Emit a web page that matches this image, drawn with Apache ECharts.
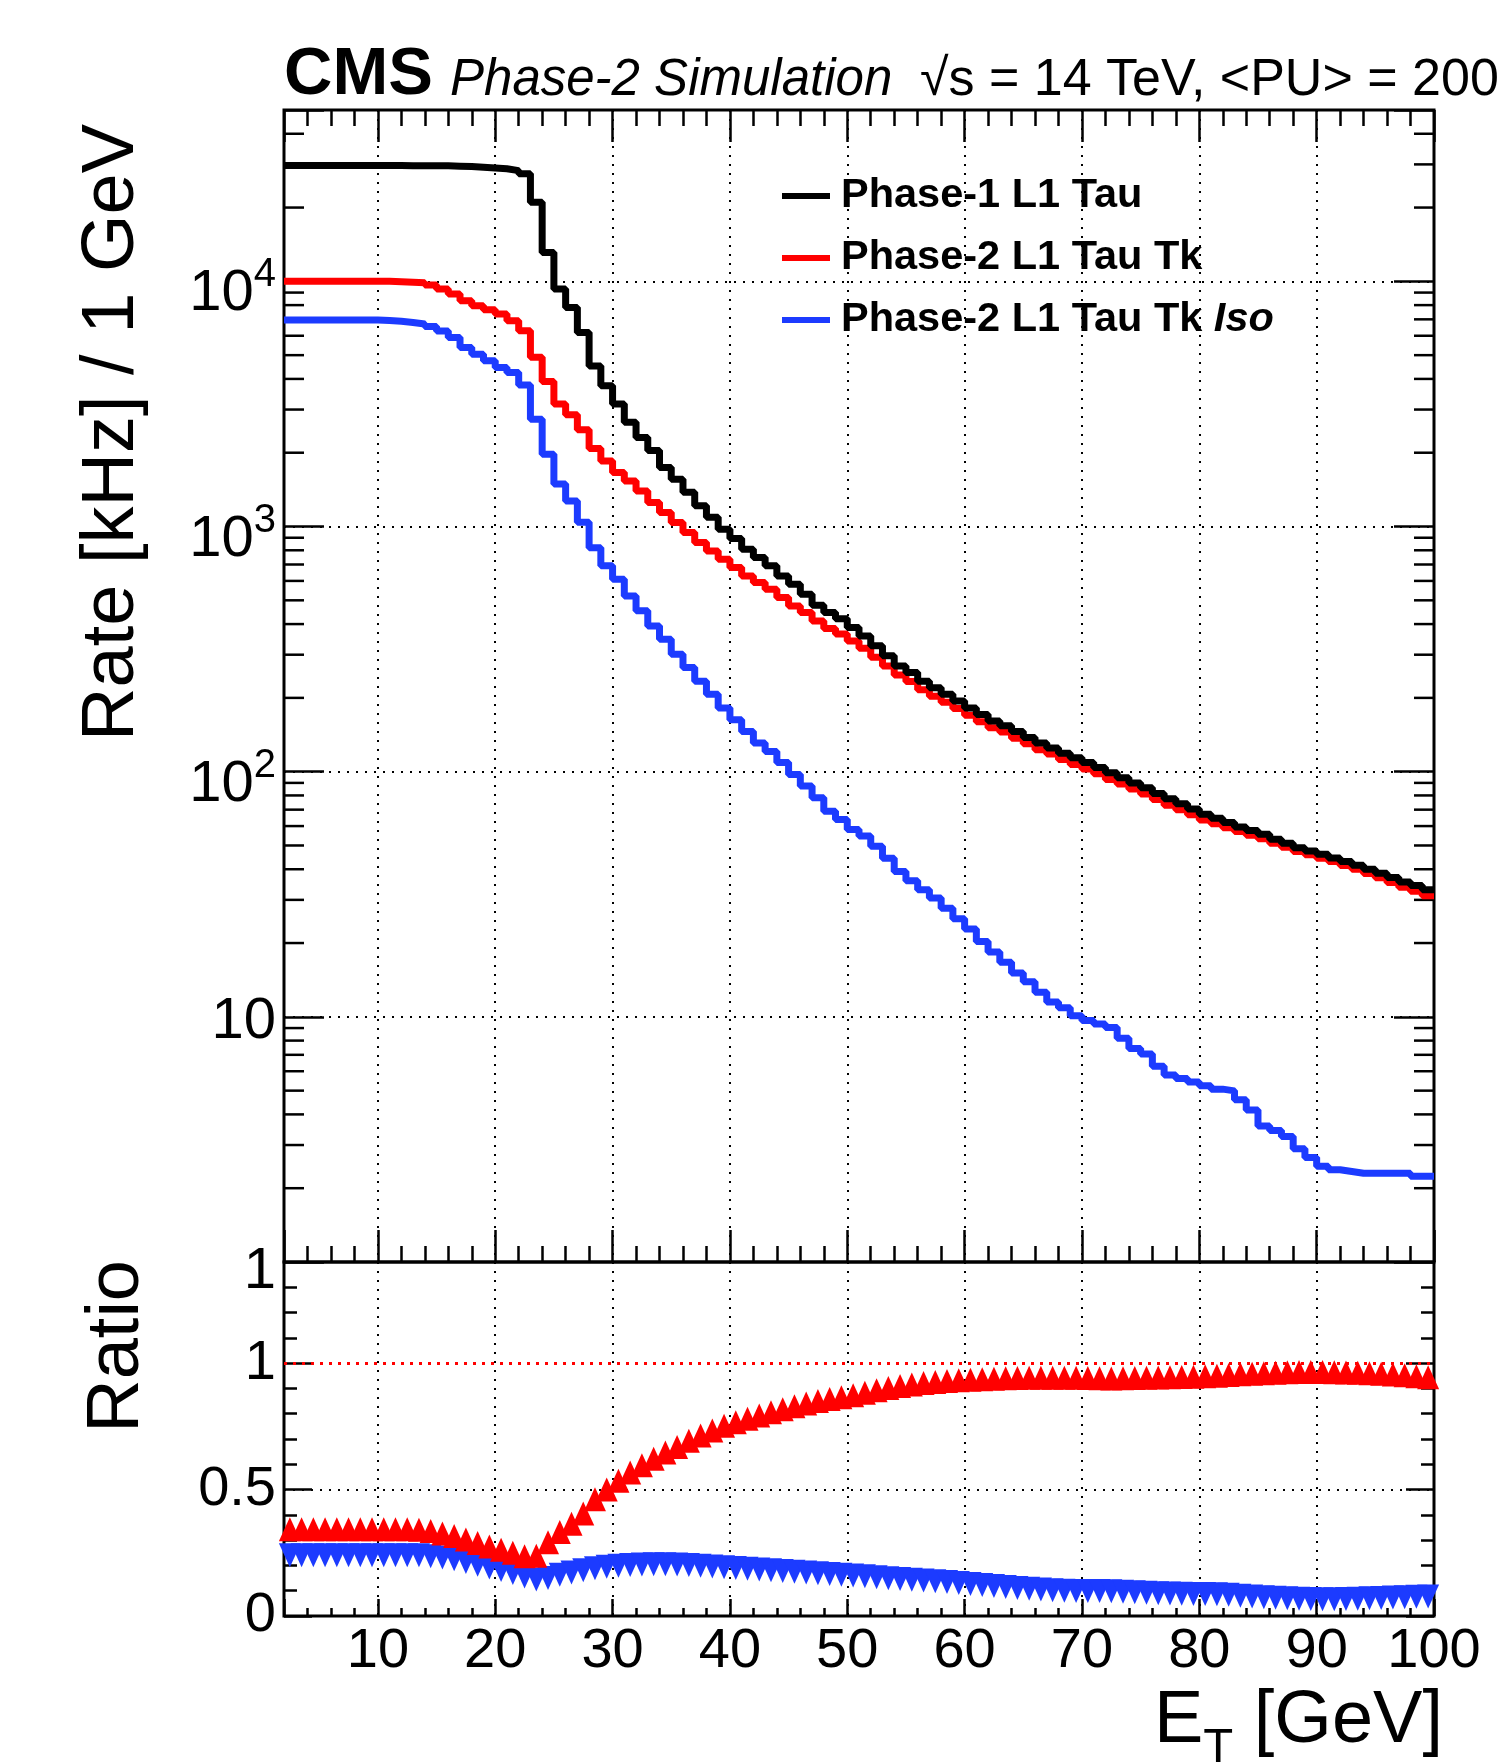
<!DOCTYPE html>
<html>
<head>
<meta charset="utf-8">
<title>L1 Tau rate</title>
<script src="https://cdn.jsdelivr.net/npm/echarts@6/dist/echarts.min.js"></script>
<style>
html, body { margin: 0; padding: 0; background: #fff; }
#chart { width: 1509px; height: 1763px; }
</style>
</head>
<body>
<div id="chart"></div>
<script>
// bin edges in GeV (1 GeV bins from 2 to 100)
const binEdges = [2, 3, 4, 5, 6, 7, 8, 9, 10, 11, 12, 13, 14, 15, 16, 17, 18, 19, 20, 21,
	22, 23, 24, 25, 26, 27, 28, 29, 30, 31, 32, 33, 34, 35, 36, 37, 38, 39, 40, 41,
	42, 43, 44, 45, 46, 47, 48, 49, 50, 51, 52, 53, 54, 55, 56, 57, 58, 59, 60, 61,
	62, 63, 64, 65, 66, 67, 68, 69, 70, 71, 72, 73, 74, 75, 76, 77, 78, 79, 80, 81,
	82, 83, 84, 85, 86, 87, 88, 89, 90, 91, 92, 93, 94, 95, 96, 97, 98, 99, 100]

// rate [kHz] per bin
const ratePhase1 = [29700, 29700, 29700, 29700, 29700, 29700, 29700, 29700, 29700, 29700,
	29650, 29650, 29600, 29600, 29500, 29400, 29200, 29000, 28800, 28300,
	27500, 21000, 13100, 9300, 7830, 6190, 4520, 3750, 3160, 2660,
	2310, 2040, 1740, 1560, 1380, 1215, 1090, 975, 893, 808,
	747, 691, 629, 581, 529, 477, 446, 421, 387, 358,
	326, 297, 270, 254, 234, 220, 207, 194, 182, 171,
	161, 154, 146, 138, 131, 125, 119, 114, 109, 104,
	99, 94.5, 90, 86, 81.5, 77.5, 74, 70.5, 67, 64.5,
	62, 59.5, 57.5, 55.5, 53, 51, 49, 47.5, 46, 44.5,
	43, 41.5, 40, 38.5, 37, 35.5, 34.3, 33]
const ratePhase2Tk = [10000, 10000, 10000, 10000, 10000, 10000, 10000, 10000, 10000, 9960,
	9920, 9880, 9670, 9300, 8880, 8340, 7950, 7660, 7360, 6910,
	6290, 4900, 3900, 3160, 2860, 2480, 2080, 1850, 1660, 1535,
	1397, 1253, 1141, 1039, 946, 861, 795, 735, 680, 629,
	591, 555, 513, 474, 446, 412, 384, 364, 341, 319,
	293, 270, 248, 233, 216, 203, 192, 181, 170, 160,
	151, 145, 137, 130, 123, 118, 112, 107, 102.5, 98,
	93, 89, 85, 81, 77, 73, 70, 66.7, 63.5, 61.3,
	59, 57, 55, 53.3, 51, 49.2, 47.3, 45.8, 44.4, 43,
	41.4, 40, 38.4, 36.9, 35.3, 33.8, 32.5, 31.2]
const ratePhase2TkIso = [6950, 6950, 6950, 6950, 6950, 6950, 6950, 6950, 6920, 6870,
	6800, 6700, 6540, 6280, 5900, 5370, 5040, 4740, 4450, 4250,
	3780, 2740, 1970, 1490, 1270, 1040, 820, 691, 609, 521,
	453, 393, 347, 301, 266, 234, 207, 182, 163, 146,
	131, 121, 109, 97.5, 87.4, 78.3, 69, 63.8, 58.1, 54.6,
	49.6, 44.4, 39.2, 35.9, 33, 30.5, 27.7, 25.1, 22.8, 20.3,
	18.4, 16.7, 15.1, 13.9, 12.6, 11.5, 10.9, 10.1, 9.66, 9.34,
	9.04, 8.18, 7.42, 7.06, 6.29, 5.79, 5.6, 5.42, 5.24, 5.07,
	4.99, 4.59, 4.17, 3.59, 3.44, 3.25, 2.9, 2.67, 2.46, 2.38,
	2.34, 2.3, 2.3, 2.3, 2.3, 2.3, 2.24, 2.24]

// ratio to Phase-1 per bin
const ratioTk = [0.343, 0.343, 0.343, 0.343, 0.343, 0.343, 0.343, 0.343, 0.343, 0.343,
	0.343, 0.341, 0.336, 0.326, 0.316, 0.303, 0.289, 0.275, 0.262, 0.25,
	0.236, 0.238, 0.292, 0.332, 0.365, 0.405, 0.462, 0.5, 0.535, 0.568,
	0.596, 0.622, 0.647, 0.668, 0.693, 0.714, 0.734, 0.752, 0.766, 0.78,
	0.793, 0.806, 0.818, 0.83, 0.84, 0.85, 0.858, 0.865, 0.873, 0.883,
	0.893, 0.902, 0.91, 0.916, 0.921, 0.925, 0.929, 0.932, 0.934, 0.936,
	0.938, 0.94, 0.941, 0.942, 0.942, 0.942, 0.942, 0.942, 0.941, 0.94,
	0.939, 0.94, 0.941, 0.942, 0.943, 0.944, 0.945, 0.946, 0.948, 0.95,
	0.953, 0.956, 0.958, 0.96, 0.962, 0.964, 0.965, 0.965, 0.965, 0.964,
	0.963, 0.962, 0.96, 0.958, 0.955, 0.952, 0.948, 0.944]
const ratioTkIso = [0.24, 0.24, 0.24, 0.24, 0.24, 0.24, 0.24, 0.24, 0.24, 0.24,
	0.24, 0.24, 0.236, 0.231, 0.224, 0.214, 0.203, 0.192, 0.182, 0.17,
	0.156, 0.144, 0.15, 0.163, 0.172, 0.181, 0.189, 0.195, 0.199, 0.202,
	0.204, 0.205, 0.205, 0.204, 0.202, 0.199, 0.196, 0.193, 0.19, 0.187,
	0.184, 0.181, 0.178, 0.175, 0.172, 0.169, 0.166, 0.163, 0.16, 0.157,
	0.153, 0.149, 0.146, 0.143, 0.14, 0.137, 0.134, 0.131, 0.127, 0.123,
	0.119, 0.115, 0.111, 0.108, 0.105, 0.102, 0.1, 0.099, 0.099, 0.099,
	0.098, 0.096, 0.094, 0.092, 0.09, 0.089, 0.088, 0.087, 0.087, 0.086,
	0.084, 0.08, 0.077, 0.074, 0.072, 0.07, 0.068, 0.067, 0.066, 0.066,
	0.067, 0.068, 0.07, 0.071, 0.073, 0.074, 0.076, 0.077]

const xTickLabels = [10, 20, 30, 40, 50, 60, 70, 80, 90, 100]
const rateTickLabels = [1, 10, 100, 1000, 10000]
const ratioTickLabels = [0, 0.5, 1]

const FONT = 'Liberation Sans'
const BLACK = '#000000'
const RED = '#ff0000'
const BLUE = '#1c3bff'
const LABEL_SIZE = 56

// minor ticks of the log axis: 2..9 x each decade
const rateMinorTicks = []
rateTickLabels.forEach(d => {
	for (let m = 2; m <= 9; m++) {
		if (m * d < 50000) rateMinorTicks.push(m * d)
	}
})

function toSteps(values) {
	const pts = values.map((v, i) => [binEdges[i], v])
	pts.push([binEdges[binEdges.length - 1], values[values.length - 1]])
	return pts
}
function toCenters(values) {
	return values.map((v, i) => [(binEdges[i] + binEdges[i + 1]) / 2, v])
}

const dotted = { color: BLACK, width: 2, type: [2, 7] }

function xAxis(gridIndex, position, minor, tickLen, extra) {
	return Object.assign({
		type: 'value',
		gridIndex,
		position,
		min: 2,
		max: 100,
		interval: minor ? 2 : undefined,
		splitNumber: minor ? undefined : 10,
		axisLine: { show: false },
		axisTick: { show: true, inside: true, length: tickLen, lineStyle: { color: BLACK, width: 2.5 } },
		axisLabel: { show: false },
		splitLine: { show: false }
	}, extra || {})
}
function ratioAxis(position, minor, tickLen, extra) {
	return Object.assign({
		type: 'value',
		gridIndex: 1,
		position,
		min: 0,
		max: 1.4,
		interval: minor ? 0.1 : 0.5,
		axisLine: { show: false },
		axisTick: { show: true, inside: true, length: tickLen, lineStyle: { color: BLACK, width: 2.5 } },
		axisLabel: { show: false },
		splitLine: { show: false }
	}, extra || {})
}

const chart = echarts.init(document.getElementById('chart'))
chart.setOption({
	animation: false,
	backgroundColor: '#fff',
	textStyle: { fontFamily: FONT },
	grid: [
		{ left: 284, top: 110, width: 1150, height: 1152, show: true, borderColor: BLACK, borderWidth: 3, backgroundColor: 'transparent', outerBoundsMode: 'none' },
		{ left: 284, top: 1262, width: 1150, height: 354, show: true, borderColor: BLACK, borderWidth: 3, backgroundColor: 'transparent', outerBoundsMode: 'none' }
	],
	xAxis: [
		xAxis(0, 'bottom', false, 32, { splitLine: { show: true, lineStyle: dotted } }),
		xAxis(0, 'bottom', true, 16),
		xAxis(0, 'top', false, 32),
		xAxis(0, 'top', true, 16),
		xAxis(1, 'bottom', false, 17, {
			splitLine: { show: true, lineStyle: dotted },
			axisLabel: {
				show: true,
				margin: 8,
				color: BLACK,
				fontFamily: FONT,
				fontSize: LABEL_SIZE,
				formatter: v => (xTickLabels.indexOf(v) >= 0 ? String(v) : '')
			}
		}),
		xAxis(1, 'bottom', true, 8)
	],
	yAxis: [
		{
			type: 'log',
			gridIndex: 0,
			position: 'left',
			min: 1,
			max: 50000,
			logBase: 10,
			axisLine: { show: false },
			axisTick: { show: true, inside: true, length: 40, lineStyle: { color: BLACK, width: 2.5 } },
			splitLine: { show: true, lineStyle: dotted },
			axisLabel: {
				show: true,
				margin: 8,
				color: BLACK,
				fontFamily: FONT,
				fontSize: 58,
				formatter: v => {
					const e = Math.round(Math.log10(v))
					if (Math.abs(v - Math.pow(10, e)) > 1e-6 * v || rateTickLabels.indexOf(Math.pow(10, e)) < 0) return ''
					if (e === 0) return '{one|1}'
					if (e === 1) return '{ten|10}'
					return '{b|10}{s|' + e + '}'
				},
				rich: {
					one: { fontSize: 58, fontFamily: FONT, color: BLACK, padding: [20, 0, 0, 0] },
					ten: { fontSize: 58, fontFamily: FONT, color: BLACK, padding: [10, 0, 0, 0] },
					b: { fontSize: 58, fontFamily: FONT, color: BLACK, padding: [26, 0, 0, 0] },
					s: { fontSize: 40, fontFamily: FONT, color: BLACK, padding: [0, 0, 12, 0] }
				}
			}
		},
		{
			type: 'log',
			gridIndex: 0,
			position: 'right',
			min: 1,
			max: 50000,
			logBase: 10,
			axisLine: { show: false },
			axisTick: { show: true, inside: true, length: 40, lineStyle: { color: BLACK, width: 2.5 } },
			splitLine: { show: false },
			axisLabel: { show: false }
		},
		ratioAxis('left', false, 28, {
			splitLine: { show: true, lineStyle: dotted },
			axisLabel: {
				show: true,
				margin: 8,
				color: BLACK,
				fontFamily: FONT,
				fontSize: LABEL_SIZE,
				formatter: v => (ratioTickLabels.indexOf(v) >= 0 ? String(v) : '')
			}
		}),
		ratioAxis('left', true, 13),
		ratioAxis('right', false, 28),
		ratioAxis('right', true, 13)
	],
	legend: {
		data: ['Phase-1 L1 Tau', 'Phase-2 L1 Tau Tk', 'Phase-2 L1 Tau Tk Iso'],
		orient: 'vertical',
		left: 777,
		top: 170,
		itemWidth: 48,
		itemHeight: 6,
		itemGap: 20,
		icon: 'rect',
		selectedMode: false,
		formatter: name => (name.endsWith(' Iso') ? '{n|Phase-2 L1 Tau Tk }{i|Iso}' : '{n|' + name + '}'),
		textStyle: {
			color: BLACK,
			fontFamily: FONT,
			fontWeight: 'bold',
			fontSize: 41.5,
			rich: {
				n: { color: BLACK, fontFamily: FONT, fontWeight: 'bold', fontSize: 41.5, lineHeight: 44, padding: [0, 0, 0, 6] },
				i: { color: BLACK, fontFamily: FONT, fontWeight: 'bold', fontStyle: 'italic', fontSize: 41.5, lineHeight: 44 }
			}
		}
	},
	graphic: [
		{ type: 'text', x: 284, y: 76, style: { text: 'CMS', fontFamily: FONT, fontWeight: 'bold', fontSize: 67, fill: BLACK, verticalAlign: 'middle' } },
		{ type: 'text', x: 450, y: 81, style: { text: 'Phase-2 Simulation', fontFamily: FONT, fontStyle: 'italic', fontSize: 51, fill: BLACK, verticalAlign: 'middle' } },
		{ type: 'text', x: 920, y: 81, style: { text: '\u221As = 14 TeV, <PU> = 200', fontFamily: FONT, fontSize: 52, fill: BLACK, verticalAlign: 'middle' } },
		{ type: 'text', x: 113, y: 124, rotation: Math.PI / 2, style: { text: 'Rate [kHz] / 1 GeV', fontFamily: FONT, fontSize: 74, fill: BLACK, align: 'right', verticalAlign: 'middle' } },
		{ type: 'text', x: 118, y: 1260, rotation: Math.PI / 2, style: { text: 'Ratio', fontFamily: FONT, fontSize: 74, fill: BLACK, align: 'right', verticalAlign: 'middle' } },
		{
			type: 'text', x: 1443, y: 1722,
			style: {
				text: '{e|E}{t|T}{e| [GeV]}',
				align: 'right',
				verticalAlign: 'middle',
				rich: {
					e: { fontFamily: FONT, fontSize: 74, fill: BLACK, color: BLACK },
					t: { fontFamily: FONT, fontSize: 49, fill: BLACK, color: BLACK, padding: [52, 0, 0, 0] }
				}
			}
		}
	],
	series: [
		{
			name: 'Phase-2 L1 Tau Tk Iso',
			type: 'line',
			xAxisIndex: 0,
			yAxisIndex: 0,
			step: 'end',
			showSymbol: false,
			color: BLUE,
			itemStyle: { color: BLUE },
			lineStyle: { color: BLUE, width: 7 },
			data: toSteps(ratePhase2TkIso)
		},
		{
			name: 'Phase-2 L1 Tau Tk',
			type: 'line',
			xAxisIndex: 0,
			yAxisIndex: 0,
			step: 'end',
			showSymbol: false,
			color: RED,
			itemStyle: { color: RED },
			lineStyle: { color: RED, width: 7 },
			data: toSteps(ratePhase2Tk)
		},
		{
			name: 'Phase-1 L1 Tau',
			type: 'line',
			xAxisIndex: 0,
			yAxisIndex: 0,
			step: 'end',
			showSymbol: false,
			color: BLACK,
			itemStyle: { color: BLACK },
			lineStyle: { color: BLACK, width: 7 },
			data: toSteps(ratePhase1)
		},
		{
			// minor ticks of the log axis, both sides
			type: 'custom',
			xAxisIndex: 0,
			yAxisIndex: 0,
			silent: true,
			data: rateMinorTicks.map(v => [binEdges[0], v]),
			renderItem(params, api) {
				const v = api.value(1)
				const l = api.coord([binEdges[0], v])
				const r = api.coord([binEdges[binEdges.length - 1], v])
				const st = { stroke: BLACK, lineWidth: 2.5 }
				return {
					type: 'group',
					children: [
						{ type: 'line', shape: { x1: l[0], y1: l[1], x2: l[0] + 20, y2: l[1] }, style: st },
						{ type: 'line', shape: { x1: r[0] - 20, y1: r[1], x2: r[0], y2: r[1] }, style: st }
					]
				}
			}
		},
		{
			name: 'ratio iso',
			type: 'scatter',
			xAxisIndex: 4,
			yAxisIndex: 2,
			symbol: 'triangle',
			symbolRotate: 180,
			symbolSize: [22, 24],
			itemStyle: { color: BLUE, opacity: 1 },
			data: toCenters(ratioTkIso)
		},
		{
			name: 'ratio tk',
			type: 'scatter',
			xAxisIndex: 4,
			yAxisIndex: 2,
			symbol: 'triangle',
			symbolSize: [22, 24],
			itemStyle: { color: RED, opacity: 1 },
			data: toCenters(ratioTk),
			markLine: {
				silent: true,
				symbol: 'none',
				label: { show: false },
				lineStyle: { color: RED, width: 3, type: [3, 6], opacity: 1 },
				data: [{ yAxis: 1 }]
			}
		}
	]
})
</script>
</body>
</html>
